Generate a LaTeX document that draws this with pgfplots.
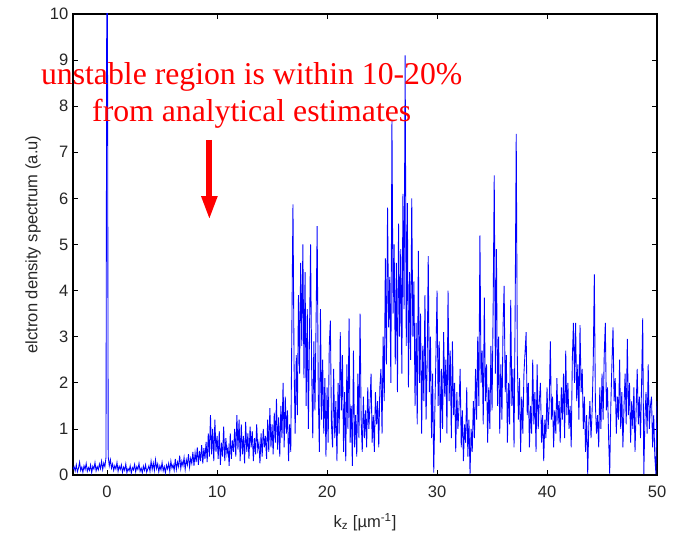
\documentclass[border=0pt]{standalone}
\usepackage{fontspec}
\setmainfont{Liberation Sans}
\newfontfamily\timesfont{Liberation Serif}
\usepackage{pgfplots}
\pgfplotsset{compat=1.18}
\usetikzlibrary{arrows.meta}
\definecolor{mblue}{RGB}{0,0,255}
\definecolor{annred}{RGB}{255,0,0}

\begin{document}
\begin{tikzpicture}
\begin{axis}[
    scale only axis,
    width=438pt, height=345.75pt,
    xmin=-3.1, xmax=50, ymin=0, ymax=10,
    xtick={0,10,...,50}, ytick={0,1,...,10},
    tick align=inside,
    major tick length=3.5pt,
    axis line style={line width=0.8pt},
    every tick/.style={black, line width=0.5pt},
    /pgf/number format/assume math mode=true,
    tick label style={font=\fontsize{12.4}{14}\selectfont, text=black!85},
    xticklabel style={yshift=-5pt},
    label style={font=\fontsize{12.4}{14}\selectfont, text=black!85},
    xlabel={k\textsubscript{z} [µm\textsuperscript{-1}]},
    xlabel style={at={(axis description cs:0.5,0)}, anchor=base, yshift=-39pt},
    ylabel={elctron density spectrum (a.u)},
    clip mode=individual,
]
\addplot[mblue, line width=0.65pt] coordinates {
(-3.1,0.12) (-3.0,0.18) (-2.9,0.09) (-2.8,0.22) (-2.7,0.07) (-2.6,0.15) (-2.5,0.28) (-2.4,0.1) (-2.3,0.17) (-2.2,0.06) (-2.1,0.2)
(-2.0,0.12) (-1.9,0.25) (-1.8,0.08) (-1.7,0.16) (-1.6,0.1) (-1.5,0.22) (-1.4,0.05) (-1.3,0.19) (-1.2,0.13) (-1.1,0.27)
(-1.0,0.09) (-0.9,0.18) (-0.8,0.11) (-0.7,0.24) (-0.6,0.14) (-0.5,0.3) (-0.4,0.12) (-0.3,0.26) (-0.2,0.18) (-0.1,0.38)
(-0.02,12) (0.02,12) (0.1,0.4) (0.2,0.2) (0.3,0.33) (0.4,0.15) (0.5,0.24) (0.6,0.1) (0.7,0.2) (0.8,0.13) (0.9,0.27)
(1.0,0.08) (1.1,0.19) (1.2,0.12) (1.3,0.22) (1.4,0.06) (1.5,0.17) (1.6,0.1) (1.7,0.24) (1.8,0.05) (1.9,0.14)
(2.0,0.09) (2.1,0.2) (2.2,0.04) (2.3,0.16) (2.4,0.11) (2.5,0.23) (2.6,0.07) (2.7,0.18) (2.8,0.12) (2.9,0.25)
(3.0,0.08) (3.1,0.15) (3.2,0.05) (3.3,0.19) (3.4,0.1) (3.5,0.22) (3.6,0.06) (3.7,0.13) (3.8,0.2) (3.9,0.08)
(4.0,0.3) (4.1,0.12) (4.2,0.26) (4.3,0.1) (4.4,0.33) (4.5,0.14) (4.6,0.24) (4.7,0.07) (4.8,0.2) (4.9,0.11)
(5.0,0.27) (5.1,0.09) (5.2,0.18) (5.3,0.05) (5.4,0.21) (5.5,0.13) (5.6,0.25) (5.7,0.08) (5.8,0.3) (5.9,0.15)
(6.0,0.22) (6.1,0.1) (6.2,0.35) (6.3,0.12) (6.4,0.28) (6.5,0.18) (6.6,0.42) (6.7,0.14) (6.8,0.3) (6.9,0.2)
(7.0,0.38) (7.1,0.12) (7.2,0.33) (7.3,0.22) (7.4,0.45) (7.5,0.17) (7.6,0.36) (7.7,0.25) (7.8,0.5) (7.9,0.2)
(8.0,0.48) (8.1,0.28) (8.2,0.6) (8.3,0.22) (8.4,0.52) (8.5,0.3) (8.6,0.65) (8.7,0.25) (8.8,0.58) (8.9,0.35)
(9.0,0.72) (9.1,0.28) (9.2,0.9) (9.3,0.4) (9.4,1.3) (9.5,0.45) (9.6,1.0) (9.7,0.3) (9.8,1.2) (9.9,0.5)
(10.0,0.85) (10.1,0.35) (10.2,0.95) (10.3,0.22) (10.4,0.7) (10.5,0.4) (10.6,1.05) (10.7,0.3) (10.8,0.8) (10.9,0.45)
(11.0,0.6) (11.1,0.2) (11.2,0.9) (11.3,0.35) (11.4,0.75) (11.5,0.5) (11.6,1.0) (11.7,0.4) (11.8,1.3) (11.9,0.55)
(12.0,1.2) (12.1,0.3) (12.2,1.1) (12.3,0.45) (12.4,0.85) (12.5,0.25) (12.6,1.15) (12.7,0.5) (12.8,0.9) (12.9,0.35)
(13.0,1.05) (13.1,0.6) (13.2,0.95) (13.3,0.3) (13.4,0.8) (13.5,0.45) (13.6,1.1) (13.7,0.55) (13.8,0.7) (13.9,0.25)
(14.0,0.9) (14.1,0.4) (14.2,1.0) (14.3,0.6) (14.4,0.85) (14.5,0.35) (14.6,1.2) (14.7,0.5) (14.8,1.45) (14.9,0.6)
(15.0,1.1) (15.1,0.45) (15.2,1.35) (15.3,0.7) (15.4,1.65) (15.5,0.55) (15.6,1.25) (15.7,0.4) (15.8,1.5) (15.9,0.8)
(16.0,2.0) (16.1,0.6) (16.2,1.7) (16.3,0.9) (16.4,1.4) (16.5,0.3) (16.6,1.1) (16.7,0.5) (16.8,3.2) (16.9,5.87)
(17.0,2.4) (17.1,0.9) (17.2,2.6) (17.3,1.3) (17.4,3.9) (17.5,2.2) (17.6,4.6) (17.7,2.8) (17.8,5.0) (17.9,2.1)
(18.0,4.4) (18.1,1.5) (18.2,3.6) (18.3,1.0) (18.4,3.0) (18.5,5.0) (18.6,2.3) (18.7,0.8) (18.8,2.9) (18.9,1.4)
(19.0,3.3) (19.1,5.4) (19.2,1.8) (19.3,0.5) (19.4,3.6) (19.5,1.2) (19.6,2.5) (19.7,0.9) (19.8,2.1) (19.9,0.4)
(20.0,1.9) (20.1,0.7) (20.2,2.8) (20.3,3.35) (20.4,1.1) (20.5,0.6) (20.6,2.3) (20.7,0.8) (20.8,1.6) (20.9,0.3)
(21.0,2.0) (21.1,0.9) (21.2,3.1) (21.3,1.4) (21.4,2.6) (21.5,0.5) (21.6,1.8) (21.7,0.3) (21.8,2.4) (21.9,1.0)
(22.0,3.4) (22.1,0.7) (22.2,1.5) (22.3,0.2) (22.4,2.7) (22.5,0.6) (22.6,1.3) (22.7,0.4) (22.8,2.2) (22.9,0.8)
(23.0,3.5) (23.1,1.2) (23.2,0.5) (23.3,1.7) (23.4,0.8) (23.5,1.4) (23.6,0.6) (23.7,1.9) (23.8,1.0) (23.9,1.5)
(24.0,2.2) (24.1,0.7) (24.2,1.3) (24.3,0.5) (24.4,1.8) (24.5,1.1) (24.6,1.6) (24.7,0.6) (24.8,1.9) (24.9,2.3)
(25.0,0.9) (25.1,3.0) (25.2,1.6) (25.3,4.7) (25.4,2.4) (25.5,5.8) (25.6,3.2) (25.7,4.3) (25.8,2.0) (25.9,7.7)
(26.0,3.5) (26.1,5.0) (26.2,2.4) (26.3,4.6) (26.4,1.8) (26.5,5.45) (26.6,3.0) (26.7,4.9) (26.8,2.2) (26.9,6.1)
(27.0,3.6) (27.1,9.1) (27.2,2.8) (27.3,5.9) (27.4,1.9) (27.5,4.4) (27.6,2.5) (27.7,6.0) (27.8,3.0) (27.9,4.2)
(28.0,1.5) (28.1,3.3) (28.2,1.1) (28.3,4.86) (28.4,2.0) (28.5,3.5) (28.6,0.9) (28.7,2.8) (28.8,1.6) (28.9,3.9)
(29.0,1.2) (29.1,2.4) (29.2,4.75) (29.3,1.8) (29.4,3.0) (29.5,0.8) (29.6,2.2) (29.7,0.05) (29.8,1.4) (29.9,2.6)
(30.0,4.0) (30.1,1.5) (30.2,2.9) (30.3,0.7) (30.4,2.3) (30.5,1.0) (30.6,3.1) (30.7,1.7) (30.8,2.5) (30.9,0.9)
(31.0,4.0) (31.1,1.6) (31.2,2.7) (31.3,0.8) (31.4,2.9) (31.5,1.3) (31.6,2.0) (31.7,0.5) (31.8,1.8) (31.9,1.0)
(32.0,1.5) (32.1,2.3) (32.2,0.6) (32.3,1.4) (32.4,0.3) (32.5,1.1) (32.6,0.7) (32.7,1.9) (32.8,0.4) (32.9,1.2)
(33.0,0.02) (33.1,1.0) (33.2,0.5) (33.3,1.6) (33.4,0.8) (33.5,2.3) (33.6,1.2) (33.7,3.0) (33.8,1.5) (33.9,5.2)
(34.0,2.0) (34.1,2.7) (34.2,1.1) (34.3,3.85) (34.4,1.6) (34.5,2.4) (34.6,0.7) (34.7,1.9) (34.8,1.0) (34.9,2.8)
(35.0,1.4) (35.1,3.6) (35.2,6.5) (35.3,2.2) (35.4,4.9) (35.5,1.5) (35.6,3.0) (35.7,0.9) (35.8,2.4) (35.9,1.2)
(36.0,3.2) (36.1,4.1) (36.2,1.8) (36.3,2.6) (36.4,0.7) (36.5,2.0) (36.6,1.1) (36.7,3.8) (36.8,1.5) (36.9,2.3)
(37.0,0.6) (37.1,3.5) (37.2,7.4) (37.3,2.5) (37.4,1.2) (37.5,2.1) (37.6,0.5) (37.7,1.7) (37.8,0.9) (37.9,2.2)
(38.0,2.65) (38.1,3.1) (38.2,1.3) (38.3,2.0) (38.4,0.6) (38.5,1.5) (38.6,0.9) (38.7,2.5) (38.8,1.1) (38.9,1.8)
(39.0,0.5) (39.1,2.4) (39.2,1.0) (39.3,1.6) (39.4,2.0) (39.5,0.7) (39.6,1.3) (39.7,0.3) (39.8,1.2) (39.9,0.8)
(40.0,1.9) (40.1,1.0) (40.2,1.5) (40.3,2.9) (40.4,1.2) (40.5,1.7) (40.6,0.6) (40.7,1.4) (40.8,0.9) (40.9,2.1)
(41.0,1.1) (41.1,1.6) (41.2,0.7) (41.3,1.9) (41.4,1.2) (41.5,2.2) (41.6,0.8) (41.7,2.7) (41.8,1.3) (41.9,2.0)
(42.0,1.0) (42.1,1.5) (42.2,0.6) (42.3,2.5) (42.4,3.3) (42.5,2.0) (42.6,3.3) (42.7,1.6) (42.8,2.4) (42.9,1.2)
(43.0,3.25) (43.1,1.8) (43.2,2.3) (43.3,1.0) (43.4,1.7) (43.5,0.5) (43.6,1.3) (43.7,0.02) (43.8,1.1) (43.9,1.6)
(44.0,0.8) (44.1,1.4) (44.2,2.4) (44.3,4.35) (44.4,1.5) (44.5,0.9) (44.6,1.3) (44.7,0.6) (44.8,1.9) (44.9,1.0)
(45.0,2.2) (45.1,1.2) (45.2,2.6) (45.3,3.3) (45.4,1.4) (45.5,1.9) (45.6,0.8) (45.7,0.02) (45.8,1.5) (45.9,2.4)
(46.0,3.2) (46.1,1.6) (46.2,2.1) (46.3,0.9) (46.4,1.7) (46.5,1.2) (46.6,2.5) (46.7,1.0) (46.8,1.8) (46.9,0.6)
(47.0,1.5) (47.1,2.2) (47.2,1.1) (47.3,2.95) (47.4,1.3) (47.5,2.0) (47.6,0.7) (47.7,1.6) (47.8,1.0) (47.9,1.9)
(48.0,0.5) (48.1,1.4) (48.2,2.3) (48.3,1.1) (48.4,1.7) (48.5,0.8) (48.6,2.0) (48.7,3.4) (48.8,0.02) (48.9,1.2)
(49.0,1.8) (49.1,0.9) (49.2,2.4) (49.3,1.0) (49.4,1.5) (49.5,1.7) (49.6,0.6) (49.7,1.3) (49.8,0.4) (49.9,0.02)
(50.0,1.6)
};
% annotation
\node[anchor=base, text=annred, font=\timesfont\fontsize{23.8}{28}\selectfont, inner sep=0pt]
    at (axis cs:13.15,8.46) {unstable region is within 10-20\%};
\node[anchor=base, text=annred, font=\timesfont\fontsize{23.8}{28}\selectfont, inner sep=0pt]
    at (axis cs:13.15,7.66) {from analytical estimates};
\draw[annred, line width=4.5pt, -{Triangle[width=11pt,length=18pt]}]
    (axis cs:9.3,7.27) -- (axis cs:9.3,5.53);
\coordinate (sw) at (rel axis cs:0,0);
\coordinate (ne) at (rel axis cs:1,1);
\end{axis}
\pgfresetboundingbox
\path[use as bounding box] ([shift={(-54.75pt,-44.25pt)}]sw) rectangle ([shift={(15pt,10.5pt)}]ne);
\end{tikzpicture}
\end{document}
